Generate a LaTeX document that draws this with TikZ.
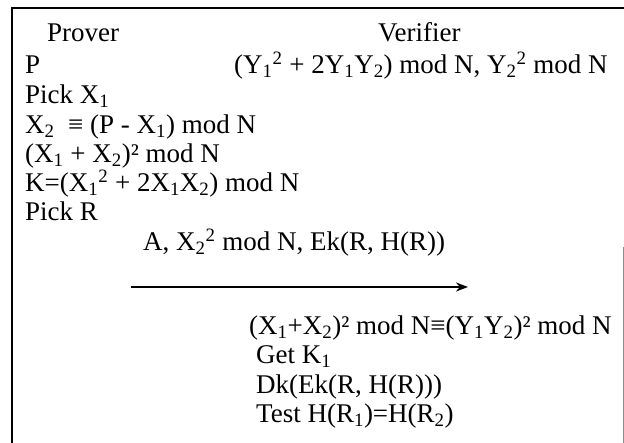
\documentclass[tikz,border=0pt]{standalone}
\usepackage{fontspec}
\setmainfont{Liberation Serif}
\usetikzlibrary{arrows.meta}
\newcommand\lo[1]{\textsubscript{#1}}
\newcommand\hi[1]{\textsuperscript{#1}}
\begin{document}
\begin{tikzpicture}[x=1pt,y=-1pt,
  txt/.style={anchor=base west,inner sep=0pt,font=\fontsize{27}{31}\selectfont},
  frame/.style={line width=1.4pt,black},
  msg/.style={line width=2pt,-{Stealth[length=12pt,width=9pt]}}]
\useasboundingbox (0,0) rectangle (624,443);
% frame
\draw[frame] (12,443) -- (12,8) -- (624,8);
\draw[line width=1pt,black!45] (623,247) -- (623,443);
% headers
\node[txt] (prover) at (47,42) {Prover};
\node[txt] (verifier) at (378,42) {Verifier};
% prover column
\node[txt] (p) at (25,74) {P};
\node[txt] (pick1) at (25,104) {Pick X\lo{1}};
\node[txt] (x2) at (25,134) {X\lo{2} \ ≡ (P - X\lo{1}) mod N};
\node[txt] (sq) at (25,163) {(X\lo{1} + X\lo{2})² mod N};
\node[txt] (k) at (25,192) {K=(X\lo{1}\hi{2} + 2X\lo{1}X\lo{2}) mod N};
\node[txt] (pickr) at (25,221) {Pick R};
% verifier values
\node[txt] (yv) at (234,74) {(Y\lo{1}\hi{2} + 2Y\lo{1}Y\lo{2}) mod N, Y\lo{2}\hi{2} mod N};
% message
\node[txt] (lab) at (143,251) {A, X\lo{2}\hi{2} mod N, Ek(R, H(R))};
\coordinate (a1) at (131,287);
\coordinate (a2) at (468,287);
\draw[msg] (a1) -- (a2);
% verifier steps
\node[txt] (chk) at (249,335) {(X\lo{1}+X\lo{2})² mod N≡(Y\lo{1}Y\lo{2})² mod N};
\node[txt] (getk) at (256,364) {Get K\lo{1}};
\node[txt] (dk) at (256,394) {Dk(Ek(R, H(R)))};
\node[txt] (test) at (256,423) {Test H(R\lo{1})=H(R\lo{2})};
\end{tikzpicture}
\end{document}
